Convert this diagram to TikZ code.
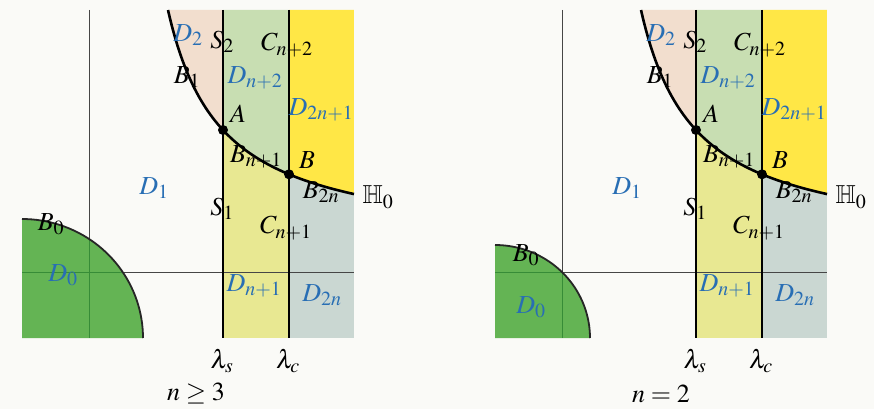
\documentclass[tikz,border=0pt]{standalone}
\usepackage{mathptmx}
\usepackage{amssymb}
\DeclareMathSizes{26}{26}{20}{15}
\definecolor{bgc}{RGB}{250,250,247}
\definecolor{peach}{RGB}{242,222,206}
\definecolor{lgreen}{RGB}{200,222,178}
\definecolor{yell}{RGB}{255,231,70}
\definecolor{lyellow}{RGB}{232,232,146}
\definecolor{gblue}{RGB}{202,215,210}
\definecolor{dgreen}{RGB}{100,180,84}
\definecolor{gline}{RGB}{55,140,55}
\definecolor{tblue}{RGB}{40,110,180}
\definecolor{axc}{RGB}{70,70,70}
\newcommand\drawpanel[6]{%
\begin{scope}[shift={(#1,0)}]
  \fill[lyellow] (223,10) rectangle (289,338);
  \fill[gblue] (289,10) rectangle (354,338);
  \begin{scope}
    \clip (354,10) -- (168,10) -- plot[domain=168:354,samples=80] (\x,{247.2-12735/(\x-114.3)}) -- cycle;
    \fill[peach] (160,0) rectangle (223,220);
    \fill[lgreen] (223,0) rectangle (289,220);
    \fill[yell] (289,0) rectangle (354,220);
  \end{scope}
  \fill[dgreen] (22,338) -- plot[domain=90:0,samples=40] ({22+#2*cos(\x)},{338-#3*sin(\x)}) -- cycle;
  \draw[axline] (89,10) -- (89,338);
  \draw[axline] (22,272) -- (354,272);
  \begin{scope}
    \clip (22,338) -- plot[domain=90:0,samples=40] ({22+#2*cos(\x)},{338-#3*sin(\x)}) -- cycle;
    \draw[gaxline] (89,10) -- (89,338);
    \draw[gaxline] (22,272) -- (354,272);
  \end{scope}
  \coordinate (#4st) at (223,10);
  \coordinate (#4sb) at (223,338);
  \coordinate (#4ct) at (289,10);
  \coordinate (#4cb) at (289,338);
  \draw[lamline] (#4st) -- (#4sb);
  \draw[lamline] (#4ct) -- (#4cb);
  \draw[curveline] plot[domain=168:354,samples=80] (\x,{247.2-12735/(\x-114.3)});
  \draw[arcline] plot[domain=90:0,samples=40] ({22+#2*cos(\x)},{338-#3*sin(\x)});
  \coordinate (#4A) at (223,130.0);
  \coordinate (#4B) at (289,174.3);
  \fill (#4A) circle[radius=5pt];
  \fill (#4B) circle[radius=5pt];
  \node[blbl] (#4D2) at (188,35) {$D_2$};
  \node[lbl] (#4S2) at (222,42) {$S_2$};
  \node[lbl] (#4Cn2) at (287,45) {$C_{n+2}$};
  \node[lbl] (#4B1) at (187,77) {$B_1$};
  \node[blbl] (#4Dn2) at (255,78) {$D_{n+2}$};
  \node[lbl] (#4Alab) at (238,114) {$A$};
  \node[blbl] (#4D2n1) at (321,110) {$D_{2n+1}$};
  \node[lbl] (#4Bn1) at (256,157) {$B_{n+1}$};
  \node[lbl] (#4Blab) at (307,160) {$B$};
  \node[lbl] (#4B2n) at (321,192) {$B_{2n}$};
  \node[lbl] (#4H) at (378,197) {$\mathbb{H}_0$};
  \node[blbl] (#4D1) at (154,188) {$D_1$};
  \node[lbl] (#4S1) at (222,209) {$S_1$};
  \node[lbl] (#4Cn1) at (286,228) {$C_{n+1}$};
  \node[blbl] (#4Dn1) at (254,286) {$D_{n+1}$};
  \node[blbl] (#4D2n) at (322,295) {$D_{2n}$};
  \node[lbl] (#4ls) at (222,361) {$\lambda_s$};
  \node[lbl] (#4lc) at (288,361) {$\lambda_c$};
  \node[lbl] (#4cap) at (#5,394) {#6};
\end{scope}}
\begin{document}
\begin{tikzpicture}[x=1pt,y=-1pt,
  lbl/.style={inner sep=0pt, font=\fontsize{26}{30}\selectfont},
  blbl/.style={lbl, text=tblue},
  axline/.style={draw=axc, line width=0.9pt},
  gaxline/.style={draw=gline, line width=0.9pt},
  lamline/.style={draw=black, line width=1.8pt},
  curveline/.style={draw=black, line width=2.6pt},
  arcline/.style={draw=black!85, line width=1.8pt}]
  \useasboundingbox (0,0) rectangle (874,409);
  \fill[bgc] (0,0) rectangle (874,409);
  \drawpanel{0}{121}{119}{L}{196}{$n\geq 3$}
  \drawpanel{473}{95}{93}{R}{188}{$n=2$}
  \node[lbl] (LB0) at (51,224) {$B_0$};
  \node[blbl] (LD0) at (63,275) {$D_0$};
  \node[lbl] (RB0) at (526,255) {$B_0$};
  \node[blbl] (RD0) at (531,307) {$D_0$};
\end{tikzpicture}
\end{document}
